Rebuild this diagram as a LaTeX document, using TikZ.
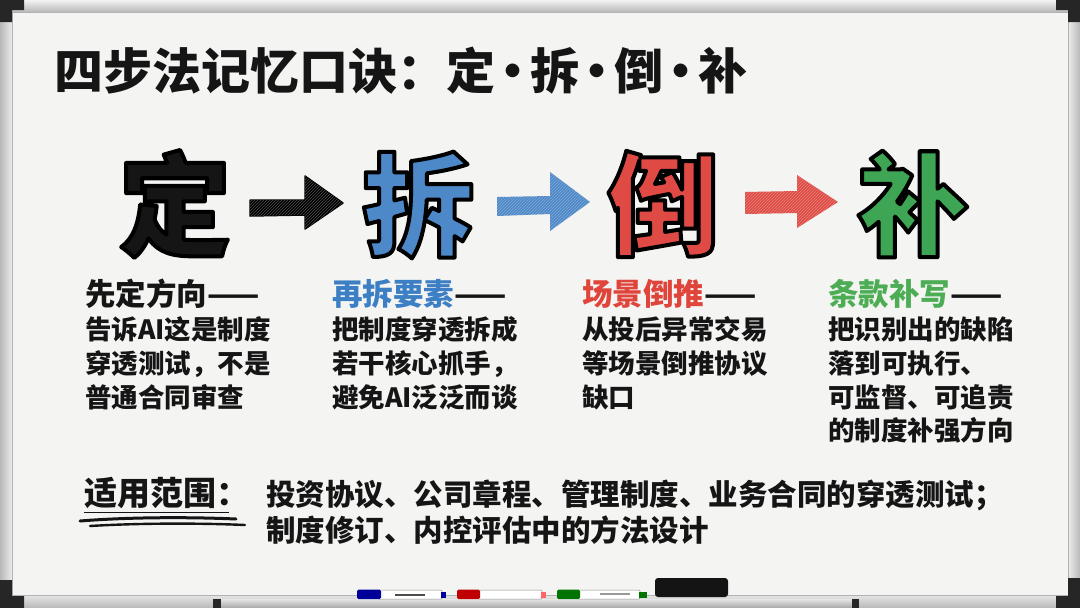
\documentclass[tikz,border=0pt]{standalone}
\usepackage{fontspec}
\setmainfont{Noto Sans CJK SC}
\usetikzlibrary{patterns}
\definecolor{board}{HTML}{F4F4F2}
\definecolor{frameg}{HTML}{CFCFCF}
\definecolor{framed}{HTML}{B8B8B8}
\definecolor{corner}{HTML}{262626}
\definecolor{ink}{HTML}{151515}
\definecolor{hblue}{HTML}{3D7FC4}
\definecolor{hred}{HTML}{E0453C}
\definecolor{hgreen}{HTML}{4CAD55}
\definecolor{fblue}{HTML}{4D88C9}
\definecolor{fred}{HTML}{E04A44}
\definecolor{fgreen}{HTML}{3DA553}
\newcommand{\outlinedchar}[2]{\textcolor{#1}{\special{pdf:literal direct 2 Tr 4 w 1 j 0 0 0 RG}#2\special{pdf:literal direct 0 Tr}}}
\newcommand{\tdot}{\kern-7pt·\kern-7pt}
\tikzset{
  bigchar/.style={inner sep=0pt, font=\fontsize{112}{112}\selectfont\bfseries},
  titletxt/.style={inner sep=0pt, anchor=base west, text=ink, font=\fontsize{49}{49}\selectfont\bfseries},
  headtxt/.style={inner sep=0pt, anchor=base west, text=ink, font=\fontsize{30.5}{30.5}\selectfont\bfseries},
  bodytxt/.style={inner sep=0pt, anchor=base west, text=ink, font=\fontsize{26.5}{26.5}\selectfont\bfseries},
  scopetxt/.style={inner sep=0pt, anchor=base west, text=ink, font=\fontsize{29.5}{29.5}\selectfont\bfseries},
  cornerpiece/.style={fill=corner},
  markerbody/.style={fill=white, draw=black!45, line width=0.5pt, rounded corners=1pt},
  hatch/.style={pattern=north east lines, pattern color=white!80!gray, opacity=0.35}
}
\begin{document}
\begin{tikzpicture}[x=1pt,y=-1pt]
\useasboundingbox (0,0) rectangle (1080,608);
% ---- frame ----
\fill[frameg] (0,0) rectangle (1080,608);
\shade[top color=white!90!gray, bottom color=framed] (0,0) rectangle (1080,12);
\shade[left color=framed, right color=white!85!gray] (0,12) rectangle (12,593);
\shade[left color=white!85!gray, right color=framed] (1068,12) rectangle (1080,593);
\shade[top color=white!85!gray, bottom color=framed] (0,593) rectangle (1080,608);
% board
\fill[board] (12,12) rectangle (1068,595);
\draw[black!30, line width=0.8pt] (12,12) rectangle (1068,595);
% corner pieces
\fill[cornerpiece] (0,0) -- (24,0) -- (24,10) -- (12,10) -- (12,22) -- (0,22) -- cycle;
\fill[cornerpiece] (1080,0) -- (1056,0) -- (1056,10) -- (1068,10) -- (1068,22) -- (1080,22) -- cycle;
\fill[cornerpiece] (0,608) -- (24,608) -- (24,596) -- (12,596) -- (12,580) -- (0,580) -- cycle;
\fill[cornerpiece] (1080,608) -- (1056,608) -- (1056,596) -- (1068,596) -- (1068,578) -- (1080,578) -- cycle;
% tray
\shade[top color=white!80!gray, bottom color=black!35] (215,599) rectangle (858,608);
\fill[corner] (213,599) rectangle (221,608);
\fill[corner] (852,599) rectangle (859,608);
% markers
\filldraw[markerbody] (378,590) rectangle (442,599);
\fill[blue!60!black, rounded corners=1.5pt] (357,589.5) rectangle (381,599);
\fill[blue!60!black] (441,592) rectangle (446,597.5);
\fill[black!70] (395,594) rectangle (425,596);
\filldraw[markerbody] (478,590) rectangle (542,599);
\fill[red!75!black, rounded corners=1.5pt] (457,589.5) rectangle (480,599);
\fill[red!60] (541,592) rectangle (546,597.5);
\filldraw[markerbody] (578,590) rectangle (640,599);
\fill[green!45!black, rounded corners=1.5pt] (557,589.5) rectangle (580,599);
\fill[green!45!black] (639,592) rectangle (647,597.5);
\fill[black!40] (600,593) rectangle (630,594.5);
% eraser
\fill[black!92, rounded corners=3pt] (655,578) rectangle (728,597);
% ---- title ----
\node[titletxt] (title) at (54,89) {四步法记忆口诀：定\tdot 拆\tdot 倒\tdot 补};
% ---- big characters ----
\node[bigchar] (ding) at (175,204) {\outlinedchar{ink}{定}};
\node[bigchar] (chai) at (418,205) {\outlinedchar{fblue}{拆}};
\node[bigchar] (dao) at (663,204) {\outlinedchar{fred}{倒}};
\node[bigchar] (bu) at (913,204) {\outlinedchar{fgreen}{补}};
% ---- arrows ----
\coordinate (a1) at (250,208);
\coordinate (a2) at (497,206);
\coordinate (a3) at (745,203);
\filldraw[fill=black, draw=black, line width=1.5pt, line join=round]
  (a1) ++(0,-8) -- ++(55,0) -- ++(0,-24) -- (343,203) -- (305,229) -- (305,215) -- (250,216) -- cycle;
\fill[hatch] (a1) ++(0,-8) -- ++(55,0) -- ++(0,-24) -- (343,203) -- (305,229) -- (305,215) -- (250,216) -- cycle;
\fill[fblue, line join=round]
  (a2) ++(0,-9) -- (550,196) -- (550,172) -- (590,202) -- (550,231) -- (550,214) -- (497,216) -- cycle;
\fill[hatch] (a2) ++(0,-9) -- (550,196) -- (550,172) -- (590,202) -- (550,231) -- (550,214) -- (497,216) -- cycle;
\fill[fred, line join=round]
  (a3) ++(0,-11) -- (797,191) -- (797,175) -- (838,202) -- (797,228) -- (797,213) -- (745,214) -- cycle;
\fill[hatch] (a3) ++(0,-11) -- (797,191) -- (797,175) -- (838,202) -- (797,228) -- (797,213) -- (745,214) -- cycle;
% ---- column 1 ----
\node[headtxt] (c1h) at (85,305) {先定方向——};
\node[bodytxt] (c1a) at (85,339) {告诉AI这是制度};
\node[bodytxt] (c1b) at (85,373) {穿透测试，不是};
\node[bodytxt] (c1c) at (85,407) {普通合同审查};
% ---- column 2 ----
\node[headtxt] (c2h) at (332,305) {\textcolor{hblue}{再拆要素}——};
\node[bodytxt] (c2a) at (332,339) {把制度穿透拆成};
\node[bodytxt] (c2b) at (332,373) {若干核心抓手，};
\node[bodytxt] (c2c) at (332,407) {避免AI泛泛而谈};
% ---- column 3 ----
\node[headtxt] (c3h) at (582,305) {\textcolor{hred}{场景倒推}——};
\node[bodytxt] (c3a) at (582,339) {从投后异常交易};
\node[bodytxt] (c3b) at (582,373) {等场景倒推协议};
\node[bodytxt] (c3c) at (582,407) {缺口};
% ---- column 4 ----
\node[headtxt] (c4h) at (828,305) {\textcolor{hgreen}{条款补写}——};
\node[bodytxt] (c4a) at (828,339) {把识别出的缺陷};
\node[bodytxt] (c4b) at (828,373) {落到可执行、};
\node[bodytxt] (c4c) at (828,407) {可监督、可追责};
\node[bodytxt] (c4d) at (828,440) {的制度补强方向};
% ---- scope ----
\node[scopetxt, font=\fontsize{33}{33}\selectfont\bfseries] (sh) at (84,505) {适用范围：};
\draw[ink, line width=1.3pt] (84,512.5) -- (229,512.5);
\draw[ink, line width=3pt, line cap=round] (80,521) .. controls (130,517) and (190,517) .. (236,519);
\draw[ink, line width=2.4pt, line cap=round] (90,526) .. controls (140,523) and (200,523) .. (245,525);
\node[scopetxt] (s1) at (266,505) {投资协议、公司章程、管理制度、业务合同的穿透测试；};
\node[scopetxt] (s2) at (266,541) {制度修订、内控评估中的方法设计};
\end{tikzpicture}
\end{document}
